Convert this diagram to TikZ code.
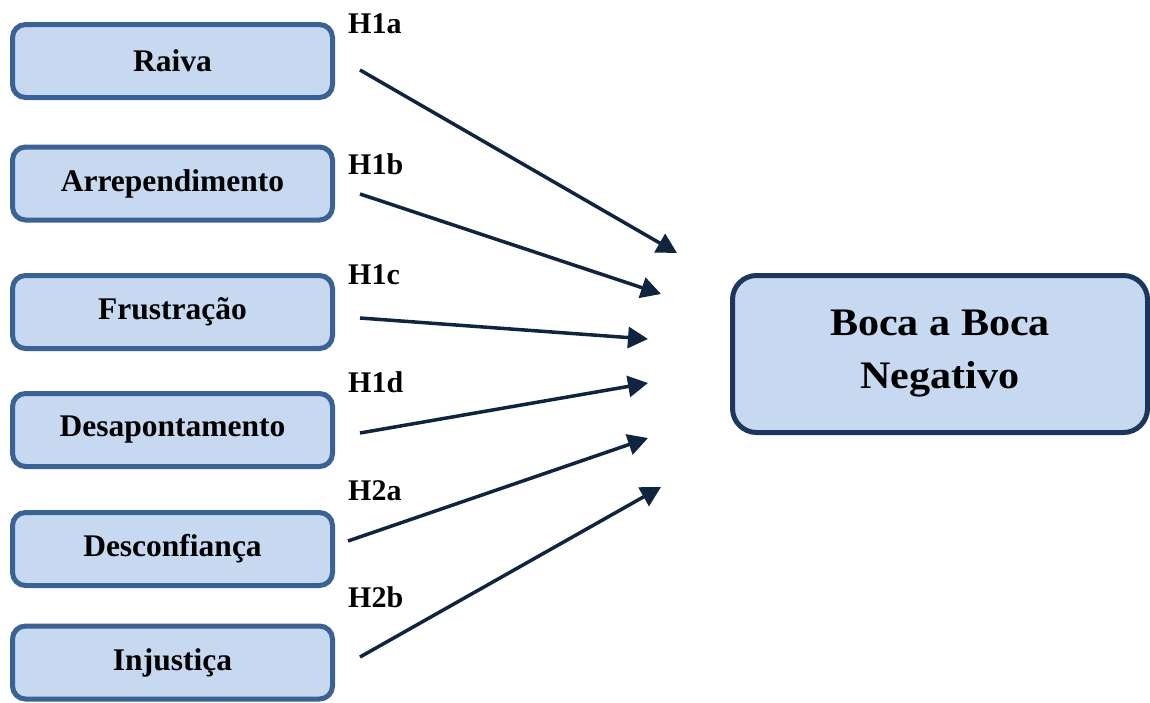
\documentclass[tikz,border=0pt]{standalone}
\usepackage{fontspec}
\setmainfont{Liberation Serif}
\usetikzlibrary{arrows.meta}
\definecolor{boxfill}{HTML}{C6D9F1}
\definecolor{boxline}{HTML}{3A6295}
\definecolor{bigline}{HTML}{1C365C}
\definecolor{arrowcol}{HTML}{10243F}
\tikzset{
  srcbox/.style={draw=boxline, fill=boxfill, line width=5pt, rounded corners=13pt,
    minimum width=320pt, minimum height=73pt, inner sep=0pt,
    font=\fontsize{31.5}{37}\selectfont\bfseries},
  tgtbox/.style={draw=bigline, fill=boxfill, line width=5pt, rounded corners=24pt,
    minimum width=415pt, minimum height=157pt, inner sep=0pt, align=center,
    font=\fontsize{39}{53}\selectfont\bfseries},
  hyp/.style={anchor=base west, inner sep=0pt, font=\fontsize{30}{36}\selectfont\bfseries},
  link/.style={draw=arrowcol, line width=3.5pt, -{Triangle[length=20pt,width=21pt]}}
}
\begin{document}
\begin{tikzpicture}[x=1pt, y=-1pt]
\useasboundingbox (0,0) rectangle (1150,702);
\node[srcbox] (raiva) at (172.5,61) {\raisebox{1.5pt}{Raiva}};
\node[srcbox] (arrep) at (172.5,183.5) {\raisebox{1.5pt}{Arrependimento}};
\node[srcbox] (frust) at (172.5,312) {\raisebox{1.5pt}{Frustração}};
\node[srcbox] (desap) at (172.5,430) {Desapontamento};
\node[srcbox] (descon) at (172.5,549) {\raisebox{1pt}{Desconfiança}};
\node[srcbox] (injus) at (172.5,662.5) {Injustiça};
\node[tgtbox] (boca) at (940,354) {\scalebox{1.08}[1]{Boca a Boca}\\\scalebox{1.08}[1]{Negativo}};

\node[hyp] (h1a) at (348,33) {H1a};
\node[hyp] (h1b) at (348,174) {H1b};
\node[hyp] (h1c) at (348,284) {H1c};
\node[hyp] (h1d) at (348,392) {H1d};
\node[hyp] (h2a) at (348,500) {H2a};
\node[hyp] (h2b) at (348,607) {H2b};

\coordinate (s1) at (360,70);
\coordinate (s2) at (360,194);
\coordinate (s3) at (360,318);
\coordinate (s4) at (360,433);
\coordinate (s5) at (348,541);
\coordinate (s6) at (360,657);
\coordinate (e1) at (677,253);
\coordinate (e2) at (661,294);
\coordinate (e3) at (648,339);
\coordinate (e4) at (648,383);
\coordinate (e5) at (648,438);
\coordinate (e6) at (661,487);

\draw[link] (s1) -- (e1);
\draw[link] (s2) -- (e2);
\draw[link] (s3) -- (e3);
\draw[link] (s4) -- (e4);
\draw[link] (s5) -- (e5);
\draw[link] (s6) -- (e6);
\end{tikzpicture}
\end{document}
